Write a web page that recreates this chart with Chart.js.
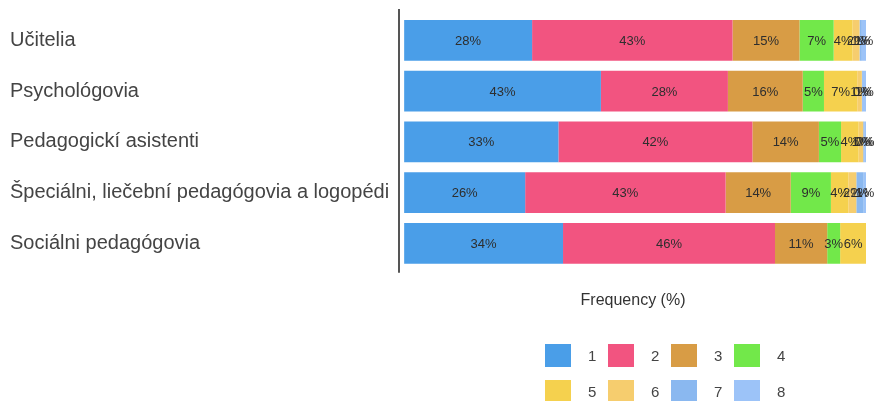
<!DOCTYPE html>
<html>
<head>
<meta charset="utf-8">
<script src="https://cdn.jsdelivr.net/npm/chart.js@4"></script>
<style>
  html, body { margin: 0; padding: 0; background: #ffffff; overflow: hidden; }
  #wrap { width: 874px; height: 401px; }
</style>
</head>
<body>
<div id="wrap"><canvas id="c" width="874" height="401"></canvas></div>
<script>
// Professions (rows) and answer levels 1-8 (stacked segments, % of responses)
const categories = [
  'Učitelia',
  'Psychológovia',
  'Pedagogickí asistenti',
  'Špeciálni, liečební pedagógovia a logopédi',
  'Sociálni pedagógovia'
];
const levels = ['1', '2', '3', '4', '5', '6', '7', '8'];

const level1 = [27.7, 42.6, 33.4, 26.2, 34.4];
const level2 = [43.4, 27.5, 42.0, 43.4, 45.9];
const level3 = [14.5, 16.2, 14.4, 14.1, 11.3];
const level4 = [7.4, 4.6, 4.8, 8.7, 2.8];
const level5 = [4.1, 7.2, 3.8, 3.8, 5.6];
const level6 = [1.5, 1.0, 1.0, 1.7, 0];
const level7 = [0.5, 0.2, 0.2, 1.6, 0];
const level8 = [0.9, 0.7, 0.4, 0.5, 0];

const colors = ['#4a9ee8', '#f25480', '#d89c45', '#72e84a',
                '#f5d14e', '#f6cd6e', '#8ab8f0', '#9cc3f8'];

const series = [level1, level2, level3, level4, level5, level6, level7, level8];

// Percentage text centred in every segment
const segmentLabels = {
  id: 'segmentLabels',
  afterDatasetsDraw(chart) {
    const ctx = chart.ctx;
    ctx.save();
    ctx.font = '13px "Liberation Sans", Arial, sans-serif';
    ctx.fillStyle = '#2e2e2e';
    ctx.textAlign = 'center';
    ctx.textBaseline = 'middle';
    chart.data.datasets.forEach((ds, di) => {
      const meta = chart.getDatasetMeta(di);
      meta.data.forEach((bar, i) => {
        const v = ds.data[i];
        if (!v) return;
        const cx = (bar.x + bar.base) / 2;
        ctx.fillText(Math.round(v) + '%', cx, bar.y + 1);
      });
    });
    ctx.restore();
  }
};

// Vertical axis line, running a little past the first and last rows
const axisLine = {
  id: 'axisLine',
  afterDraw(chart) {
    const { ctx, chartArea } = chart;
    ctx.save();
    ctx.strokeStyle = '#555555';
    ctx.lineWidth = 2;
    ctx.beginPath();
    ctx.moveTo(chartArea.left - 1, chartArea.top - 6);
    ctx.lineTo(chartArea.left - 1, chartArea.bottom + 4);
    ctx.stroke();
    ctx.restore();
  }
};

// Legend laid out as a 4-column grid below the axis title
const gridLegend = {
  id: 'gridLegend',
  afterDraw(chart) {
    const ctx = chart.ctx;
    const startX = 545, startY = 344, colW = 63, rowH = 36, boxW = 26, boxH = 23;
    ctx.save();
    ctx.font = '15px "Liberation Sans", Arial, sans-serif';
    ctx.textAlign = 'left';
    ctx.textBaseline = 'middle';
    chart.data.datasets.forEach((ds, i) => {
      const col = i % 4, row = Math.floor(i / 4);
      const x = startX + col * colW, y = startY + row * rowH;
      ctx.fillStyle = ds.backgroundColor;
      ctx.fillRect(x, y, boxW, boxH);
      ctx.fillStyle = '#444444';
      ctx.fillText(ds.label, x + 43, y + boxH / 2 + 1);
    });
    ctx.restore();
  }
};

new Chart(document.getElementById('c'), {
  type: 'bar',
  data: {
    labels: categories,
    datasets: series.map((d, i) => ({
      label: levels[i],
      data: d,
      backgroundColor: colors[i],
      borderWidth: 0,
      barPercentage: 0.8,
      categoryPercentage: 1.0
    }))
  },
  options: {
    indexAxis: 'y',
    responsive: false,
    animation: false,
    layout: { padding: { left: 10, top: 15, right: 8, bottom: 91 } },
    plugins: {
      legend: { display: false },
      tooltip: { enabled: false }
    },
    scales: {
      x: {
        stacked: true,
        min: -0.9,
        max: 100,
        ticks: { display: false },
        grid: { display: false },
        border: { display: false },
        title: {
          display: true,
          text: 'Frequency (%)',
          color: '#333333',
          font: { family: '"Liberation Sans", Arial, sans-serif', size: 16 },
          padding: { top: 14, bottom: 0 }
        }
      },
      y: {
        stacked: true,
        grid: { display: false },
        border: { display: false },
        ticks: {
          crossAlign: 'far',
          color: '#444444',
          padding: 6,
          font: { family: '"Liberation Sans", Arial, sans-serif', size: 20 }
        },
        afterFit(scale) {
          scale.width = 390;
          scale.paddingTop = 0;
          scale.paddingBottom = 0;
        }
      }
    }
  },
  plugins: [segmentLabels, axisLine, gridLegend]
});
</script>
</body>
</html>
